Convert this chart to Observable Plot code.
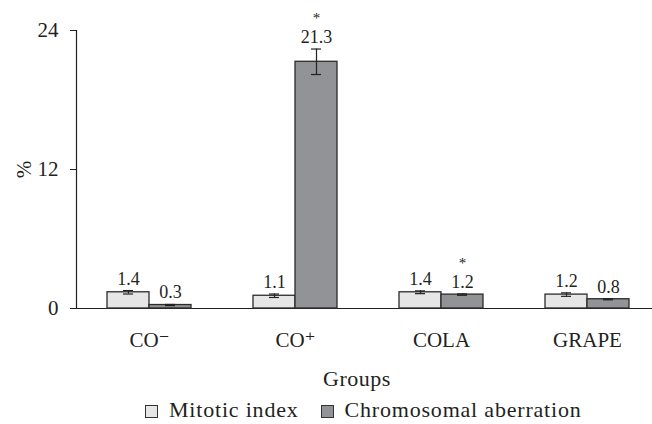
<!DOCTYPE html>
<html><head><meta charset="utf-8">
<script src="https://cdn.jsdelivr.net/npm/d3@7"></script>
<script src="https://cdn.jsdelivr.net/npm/@observablehq/plot@0.6"></script>
<style>
html,body{margin:0;padding:0;background:#fff;overflow:hidden;}
body{font-family:"Liberation Serif","DejaVu Serif",serif;color:#231f20;width:652px;height:424px;position:relative;}
#xlabel{position:absolute;top:367px;left:0;width:714px;text-align:center;font-family:"Liberation Serif",serif;font-size:22px;line-height:24px;letter-spacing:0.5px;}
#legend{position:absolute;top:398px;left:145px;font-family:"Liberation Serif",serif;font-size:22px;line-height:24px;letter-spacing:0.8px;white-space:nowrap;display:flex;align-items:center;}
#legend .item{display:flex;align-items:center;margin-right:22px;}
#legend .sw{width:11px;height:11px;border:1px solid #333;margin-right:11px;margin-top:3px;}
</style></head><body>
<div id="chart"></div>
<div id="xlabel">Groups</div>
<div id="legend"></div>
<script>
const groups = ["CO⁻", "CO⁺", "COLA", "GRAPE"];
const series = ["Mitotic index", "Chromosomal aberration"];
const mitotic = [1.4, 1.1, 1.4, 1.2];
const aberration = [0.3, 21.3, 1.2, 0.8];
const mitoticErr = [0.15, 0.15, 0.12, 0.15];
const aberrationErr = [0.05, 1.1, 0.06, 0.05];
const mitoticSig = [false, false, false, false];
const aberrationSig = [false, true, true, false];
const yTicks = [0, 12, 24];
const colors = ["#e6e6e6", "#929396"];

const data = [];
groups.forEach((g, i) => {
  data.push({group: g, series: series[0], value: mitotic[i], err: mitoticErr[i], sig: mitoticSig[i]});
  data.push({group: g, series: series[1], value: aberration[i], err: aberrationErr[i], sig: aberrationSig[i]});
});
const lo = d => d.value - d.err;
const hi = d => d.value + d.err;

const plot = Plot.plot({
  width: 652, height: 352,
  marginLeft: 76, marginRight: -8, marginTop: 30, marginBottom: 44,
  style: {fontFamily: "'Liberation Serif', 'DejaVu Serif', serif", fontSize: "21px", color: "#231f20", background: "#fff", overflow: "visible"},
  fx: {domain: groups, padding: 0, label: null},
  x: {domain: series, paddingInner: 0, paddingOuter: 0.726, axis: null},
  y: {domain: [0, 24]},
  color: {domain: series, range: colors},
  marks: [
    Plot.axisY({ticks: yTicks, tickSize: 6, tickPadding: 12, label: "%", labelAnchor: "center", labelArrow: "none", labelOffset: 60, fontSize: 21, stroke: "#231f20"}),
    Plot.axisFx({anchor: "bottom", tickSize: 0, tickPadding: 24, label: null, fontSize: 21}),
    Plot.frame({anchor: "left", facetAnchor: "left", stroke: "#231f20", strokeWidth: 1.2}),
    Plot.ruleY([0], {stroke: "#231f20", strokeWidth: 1.2}),
    Plot.barY(data, {fx: "group", x: "series", y: "value", fill: "series", stroke: "#2b2b2b", strokeWidth: 1.3}),
    Plot.ruleX(data, {fx: "group", x: "series", y1: lo, y2: hi, stroke: "#222", strokeWidth: 1.2}),
    Plot.tickY(data, {fx: "group", x: "series", y: lo, insetLeft: 16, insetRight: 16, stroke: "#222", strokeWidth: 1.2}),
    Plot.tickY(data, {fx: "group", x: "series", y: hi, insetLeft: 16, insetRight: 16, stroke: "#222", strokeWidth: 1.2}),
    Plot.text(data, {fx: "group", x: "series", y: hi, text: d => d.value.toFixed(1), dy: -6, lineAnchor: "bottom", fontSize: 18, fill: "#231f20"}),
    Plot.text(data.filter(d => d.sig), {fx: "group", x: "series", y: hi, text: () => "*", dy: -26, lineAnchor: "bottom", fontSize: 15, fill: "#231f20"})
  ]
});
document.getElementById("chart").appendChild(plot);

const legend = document.getElementById("legend");
series.forEach((s, i) => {
  const item = document.createElement("div");
  item.className = "item";
  const sw = document.createElement("div");
  sw.className = "sw";
  sw.style.background = colors[i];
  const label = document.createElement("span");
  label.textContent = s;
  item.appendChild(sw);
  item.appendChild(label);
  legend.appendChild(item);
});
</script>
</body></html>
